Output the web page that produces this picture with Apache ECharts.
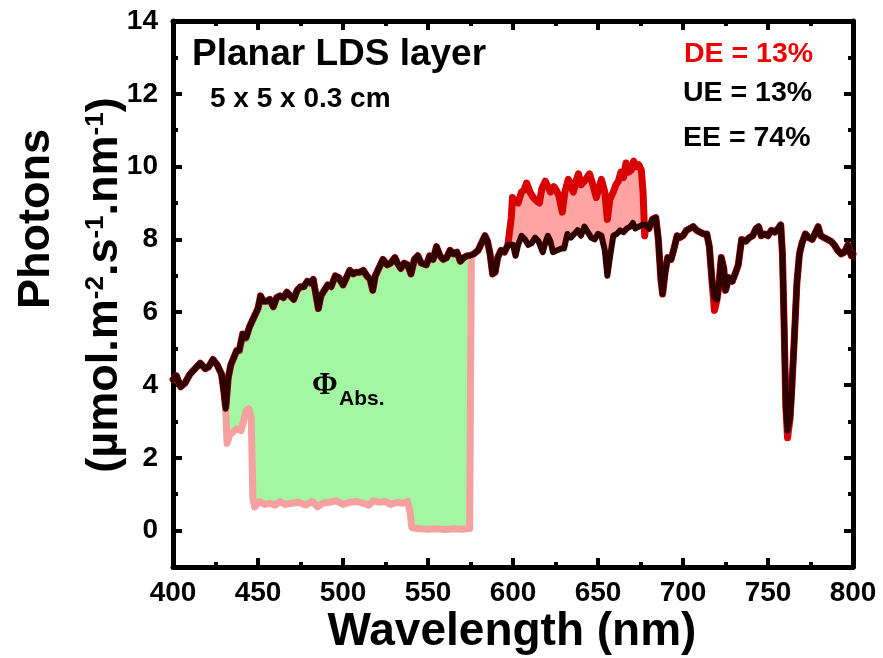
<!DOCTYPE html>
<html><head><meta charset="utf-8">
<script src="https://cdn.jsdelivr.net/npm/echarts@6/dist/echarts.min.js"></script>
<style>html,body{margin:0;padding:0;background:#fff}#c{width:883px;height:658px}</style>
</head><body><div id="c"></div>
<script>
// Solar photon spectrum (black line)
const wavelength = [400,402,404.5,407,410,413,416,419,421,423.5,426,428.5,430,431,432.5,434,437.5,439,441,443,445,448,450,451.5,453,455,457,459,461,463,465,467,469,471,473,475,477,479,481,482.5,484,485.5,487,489,491,493,495.5,497.5,500,502,504,506,508,510,512,514,516,517.5,519,521,523.5,526,528,530.5,532,534,536,538,540,542,544,546,549,551,553,555,557,559,561,563,565,567,569,571,573,574.5,577,579.5,582,583.5,585,586.5,588,589.5,591,593,595,597,598,600,601.5,603,605,607,609,611,613,615,617.5,619,620.5,622,623.5,626,628.5,630,632,634,636,638,640,642,644,646,648,650,652,654,655.5,657,659,661,663,665,667,669,670.5,672,674,676,678,680,682,684,685.5,687,688,689.5,691,693,695,696.5,698,700,702,704,706,708,710,712,714,715.5,717,718.5,720,721,722.5,724,725,727,729,731,732.5,734.5,737,739,741,743,744.5,746,748,750,752,754,756,757.5,758.5,759.5,760.5,761.5,763,764,765.5,767,768.5,770,772,774,776,778,779.5,781,783,785,787,789,791,793,795,797,799,800];
const solarPhotons = [4.15,4.25,3.95,4.05,4.3,4.45,4.6,4.45,4.5,4.7,4.55,4.3,3.8,3.35,4.2,4.55,4.95,4.95,5.4,5.3,5.6,5.9,6.1,6.45,6.3,6.3,6.35,6.15,6.4,6.45,6.4,6.55,6.45,6.35,6.6,6.7,6.7,6.85,6.8,6.9,6.5,6.1,6.45,6.6,6.75,6.7,7.0,6.95,6.75,6.95,7.15,7.05,7.1,7.1,7.15,7.0,6.9,6.6,7.0,7.2,7.45,7.3,7.35,7.5,7.35,7.2,7.35,7.3,7.05,7.45,7.55,7.35,7.3,7.55,7.45,7.8,7.55,7.45,7.5,7.7,7.6,7.65,7.4,7.5,7.55,7.55,7.6,7.7,7.95,8.1,7.95,7.6,7.05,7.1,7.5,7.7,7.65,7.85,7.9,7.85,7.55,7.85,8.1,8.0,7.85,7.9,8.05,7.95,7.65,7.9,8.1,7.95,7.65,7.7,7.75,7.75,8.15,8.05,8.15,8.25,8.1,8.35,8.2,8.05,8.0,8.15,8.1,7.7,7.0,7.5,8.1,8.15,8.25,8.2,8.3,8.35,8.45,8.3,8.35,8.4,8.4,8.3,8.55,8.6,8.0,6.9,6.5,7.1,7.5,7.45,7.8,8.1,8.05,8.1,8.25,8.3,8.35,8.25,8.2,8.15,8.15,7.8,6.9,6.4,6.35,6.7,7.5,7.2,6.6,6.95,6.85,7.1,7.3,8.0,7.95,8.05,8.1,8.3,8.35,8.1,8.15,8.1,8.25,8.2,8.3,8.4,7.6,5.6,3.4,2.75,3.1,3.9,5.3,6.8,7.6,7.9,8.15,8.05,8.0,8.2,8.35,8.1,8.05,8.0,7.95,7.85,7.7,7.6,7.65,7.85,7.55,7.6];

// Down-shifted emission (red line, DE region)
const emissionWl = [598,599,599.7,601,603,605,606.5,608,610,612,614,615.5,617,619,620.5,622,624,625.5,627,629,630.5,632.5,634,635.5,637,638.5,640,642,643.5,645,647,649,650.5,652,654,655.5,657,659,660.5,662,663.5,665,666.5,668,669.5,671,672.5,674,675.5,676.5,677.5];
const emissionPhotons = [7.9,8.6,9.15,9.05,9.0,9.3,9.35,9.55,9.3,9.15,9.05,9.0,9.4,9.6,9.45,9.3,9.45,9.35,9.2,8.75,9.3,9.65,9.5,9.3,9.6,9.8,9.5,9.6,9.7,9.8,9.5,9.15,9.4,9.65,9.3,8.55,9.1,9.3,9.5,9.6,9.85,9.7,10.1,9.85,9.9,10.15,10.0,10.05,9.9,9.3,8.1];

// Deeper red dips
const redDipWl = [718.5, 761.5];
const redDipPhotons = [6.05, 2.55];

// Transmitted spectrum in the absorption band (pink line)
const transWl = [431,431.8,433.5,435,437.5,440,441.5,443,444.5,446,447,448,451,454,457,460,463,466,470,474,478,482,485,488,492,496,500,504,508,512,515,518,521,525,528,532,535,538,539.5,540.5,545,550,555,560,565,570,574.5,575.5];
const transPhotons = [3.35,2.4,2.65,2.7,2.8,2.75,3.0,3.3,3.35,3.1,0.9,0.65,0.8,0.72,0.75,0.7,0.8,0.72,0.75,0.78,0.7,0.8,0.65,0.75,0.78,0.82,0.72,0.78,0.8,0.75,0.7,0.82,0.78,0.8,0.72,0.78,0.75,0.8,0.5,0.08,0.05,0.04,0.05,0.03,0.05,0.04,0.06,7.55];

const yMajorTicks = [0,2,4,6,8,10,12,14];
const yMinorTicks = [1,3,5,7,9,11,13];

const solarPairs = wavelength.map((x,i)=>[x, solarPhotons[i]]);
const emStart = emissionWl[0], emEnd = emissionWl[emissionWl.length-1];
let redPairs = solarPairs.filter(p=>p[0]<emStart || p[0]>emEnd)
  .concat(emissionWl.map((x,i)=>[x, emissionPhotons[i]]))
  .sort((a,b)=>a[0]-b[0]);
redPairs = redPairs.map(p=>{ const k = redDipWl.indexOf(p[0]); return k>=0 ? [p[0], redDipPhotons[k]] : p; });
const transPairs = transWl.map((x,i)=>[x, transPhotons[i]]);
const emissionPairs = emissionWl.map((x,i)=>[x, emissionPhotons[i]]);

const greenTop = solarPairs.filter(p=>p[0]>=transWl[0] && p[0]<=574.5);
const redBottom = solarPairs.filter(p=>p[0]>=emStart && p[0]<=emEnd);

function polygonSeries(top, bottom, fill) {
  return {
    type:'custom', xAxisIndex:0, yAxisIndex:0, silent:true, animation:false, z:2,
    data:[[500,0]],
    renderItem:(params, api)=>{
      const pts = top.concat(bottom.slice().reverse()).map(p=>api.coord(p));
      return {type:'polygon', shape:{points:pts}, style:{fill:fill}};
    }
  };
}

const F = '"Liberation Sans", Arial, sans-serif';
const tickLine = {color:'#000', width:4};
function xAx(pos, labels) {
  return {
    type:'value', position:pos, min:400, max:800, interval:50,
    axisLine:{show:true, onZero:false, lineStyle:{color:'#000', width:5}},
    axisTick:{show:true, inside:true, length:9, lineStyle:tickLine},
    minorTick:{show:true, splitNumber:2, length:5, lineStyle:tickLine},
    axisLabel:{show:labels, margin:12, color:'#000', fontSize:28, fontWeight:'bold', fontFamily:F},
    splitLine:{show:false}, minorSplitLine:{show:false}
  };
}
function yAx(pos, ticks, len, line, labels) {
  return {
    type:'value', position:pos, min:-1, max:14,
    axisLine:{show:line, onZero:false, lineStyle:{color:'#000', width:5}},
    axisTick:{show:true, inside:true, length:len, customValues:ticks, lineStyle:tickLine},
    axisLabel:{show:labels, customValues:yMajorTicks, margin:15, color:'#000', fontSize:28, fontWeight:'bold', fontFamily:F},
    splitLine:{show:false}
  };
}
function txt(x, y, text, size, color, extra) {
  return Object.assign({type:'text', x:x, y:y, z:100, style:{text:text, fontSize:size, fontWeight:'bold', fontFamily:F, fill:color, align:'left', verticalAlign:'middle'}}, extra||{});
}

const chart = echarts.init(document.getElementById('c'), null, {renderer:'canvas'});
chart.setOption({
  animation:false,
  backgroundColor:'#fff',
  grid:{left:173, right:30, top:21, bottom:91, containLabel:false, outerBoundsMode:'none'},
  xAxis:[xAx('bottom', true), xAx('top', false)],
  yAxis:[yAx('left', yMajorTicks, 9, true, true), yAx('left', yMinorTicks, 5, false, false),
         yAx('right', yMajorTicks, 9, true, false), yAx('right', yMinorTicks, 5, false, false)],
  series:[
    polygonSeries(emissionPairs, redBottom, '#ffa3a3'),
    {type:'line', data:redPairs, showSymbol:false, symbol:'none', lineStyle:{color:'#d80000', width:7, join:'round', cap:'round'}, z:2},
    {type:'line', data:transPairs, showSymbol:false, symbol:'none', lineStyle:{color:'#f7a0a0', width:7, join:'round', cap:'round'}, z:2},
    polygonSeries(greenTop, transPairs, 'rgba(88,240,88,0.55)'),
    {type:'line', data:solarPairs, showSymbol:false, symbol:'none', lineStyle:{color:'#2e0000', width:6, join:'round', cap:'round'}, z:2}
  ],
  graphic:[
    txt(192, 55, 'Planar LDS layer', 37, '#000'),
    txt(210, 99, '5 x 5 x 0.3 cm', 28, '#000'),
    txt(684, 54, 'DE = 13%', 28.5, '#f00000'),
    txt(683, 93, 'UE = 13%', 28.5, '#000'),
    txt(683, 138, 'EE = 74%', 28.5, '#000'),
    {type:'text', x:312, y:386, z:100, style:{text:'Φ', fontSize:31, fontWeight:'bold', fontFamily:'"Liberation Serif", serif', fill:'#000', align:'left', verticalAlign:'middle'}},
    txt(339, 399, 'Abs.', 21, '#000'),
    {type:'text', x:512, y:632, z:100, style:{text:'Wavelength (nm)', fontSize:46, fontWeight:'bold', fontFamily:F, fill:'#000', align:'center', verticalAlign:'middle'}},
    {type:'text', x:37, y:219, z:100, rotation:Math.PI/2, style:{text:'Photons', fontSize:45, fontWeight:'bold', fontFamily:F, fill:'#000', align:'center', verticalAlign:'middle'}},
    {type:'text', x:105, y:285, z:100, rotation:Math.PI/2, style:{
      text:'{b|(µmol.m}{s|-2}{b|.s}{s|-1}{b|.nm}{s|-1}{b|)}', align:'center', verticalAlign:'middle',
      rich:{
        b:{fontSize:45, fontWeight:'bold', fontFamily:F, fill:'#000'},
        s:{fontSize:26, fontWeight:'bold', fontFamily:F, fill:'#000', verticalAlign:'top'}
      }}}
  ]
});
</script></body></html>
